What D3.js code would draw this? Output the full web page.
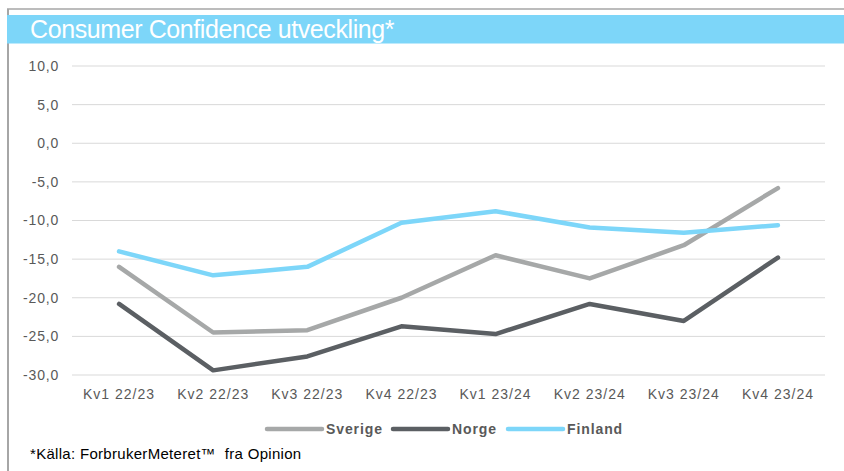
<!DOCTYPE html>
<html>
<head>
<meta charset="utf-8">
<script src="https://cdn.jsdelivr.net/npm/d3@7"></script>
<style>
  body { margin: 0; background: #fff; }
  svg { display: block; font-family: "Liberation Sans", Arial, sans-serif; }
</style>
</head>
<body>
<svg id="chart"></svg>
<script>
const width = 844, height = 471;

// Data
const quarters = ["Kv1 22/23", "Kv2 22/23", "Kv3 22/23", "Kv4 22/23", "Kv1 23/24", "Kv2 23/24", "Kv3 23/24", "Kv4 23/24"];
const sverige = [-16.0, -24.5, -24.2, -20.0, -14.5, -17.5, -13.2, -5.8];
const norge = [-20.8, -29.4, -27.6, -23.7, -24.7, -20.8, -23.0, -14.8];
const finland = [-14.0, -17.1, -16.0, -10.3, -8.8, -10.9, -11.6, -10.6];
const yTicks = [10, 5, 0, -5, -10, -15, -20, -25, -30];

const series = [
    { name: "Sverige", values: sverige, color: "#a6a8a8" },
    { name: "Norge", values: norge, color: "#5b5f63" },
    { name: "Finland", values: finland, color: "#7dd6f9" }
];

const svg = d3.select("#chart").attr("width", width).attr("height", height);

// Frame and title band
svg.append("line").attr("x1", 7).attr("x2", width).attr("y1", 9).attr("y2", 9)
    .attr("stroke", "#a6a6a6").attr("stroke-width", 1.5);
svg.append("line").attr("x1", 8).attr("x2", 8).attr("y1", 9).attr("y2", height)
    .attr("stroke", "#a6a6a6").attr("stroke-width", 2);
svg.append("rect").attr("x", 7).attr("y", 15).attr("width", width - 7).attr("height", 28.5)
    .attr("fill", "#7dd6f9");
svg.append("text").attr("x", 30).attr("y", 38)
    .attr("fill", "#fff").style("font-size", "25px").style("letter-spacing", "-0.4px")
    .text("Consumer Confidence utveckling*");

const x = d3.scaleBand().domain(quarters).range([72, 825]);
const y = d3.scaleLinear().domain([-30, 10]).range([375, 66]);

// Gridlines
svg.append("g").selectAll("line").data(yTicks).join("line")
    .attr("x1", 72).attr("x2", 825)
    .attr("y1", d => y(d)).attr("y2", d => y(d))
    .attr("stroke", "#d9d9d9").attr("stroke-width", 1);

const fmt = d => d.toFixed(1).replace(".", ",");

// Y axis labels
const yAxis = svg.append("g").attr("transform", "translate(59,0)")
    .call(d3.axisLeft(y).tickValues(yTicks).tickFormat(fmt).tickSize(0).tickPadding(0));
yAxis.select(".domain").remove();
yAxis.selectAll("text").attr("fill", "#595959").style("font-size", "14px")
    .style("letter-spacing", "0.8px")
    .style("font-family", "'Liberation Sans', Arial, sans-serif");

// X axis labels
const xAxis = svg.append("g").attr("transform", "translate(0,389)")
    .call(d3.axisBottom(x).tickSize(0).tickPadding(0));
xAxis.select(".domain").remove();
xAxis.selectAll("text").attr("fill", "#595959").style("font-size", "14px")
    .style("letter-spacing", "1px")
    .style("font-family", "'Liberation Sans', Arial, sans-serif");

// Lines
const line = d3.line()
    .x((d, i) => x(quarters[i]) + x.bandwidth() / 2)
    .y(d => y(d));

svg.append("g").selectAll("path").data(series).join("path")
    .attr("d", d => line(d.values))
    .attr("fill", "none")
    .attr("stroke", d => d.color)
    .attr("stroke-width", 4.5)
    .attr("stroke-linecap", "round")
    .attr("stroke-linejoin", "round");

// Legend
const legendX = [267, 393, 508];
const legend = svg.append("g").selectAll("g").data(series).join("g")
    .attr("transform", (d, i) => `translate(${legendX[i]},429)`);
legend.append("line").attr("x1", 0).attr("x2", 55)
    .attr("stroke", d => d.color).attr("stroke-width", 4.5).attr("stroke-linecap", "round");
legend.append("text").attr("x", 59).attr("dy", "0.35em")
    .attr("fill", "#595959").style("font-size", "14px").style("font-weight", "bold")
    .style("letter-spacing", "0.9px")
    .text(d => d.name);

// Footnote
svg.append("text").attr("x", 30).attr("y", 459)
    .attr("fill", "#000").style("font-size", "15px").style("letter-spacing", "0.3px")
    .style("white-space", "pre")
    .text("*Källa: ForbrukerMeteret\u2122  fra Opinion");
</script>
</body>
</html>
